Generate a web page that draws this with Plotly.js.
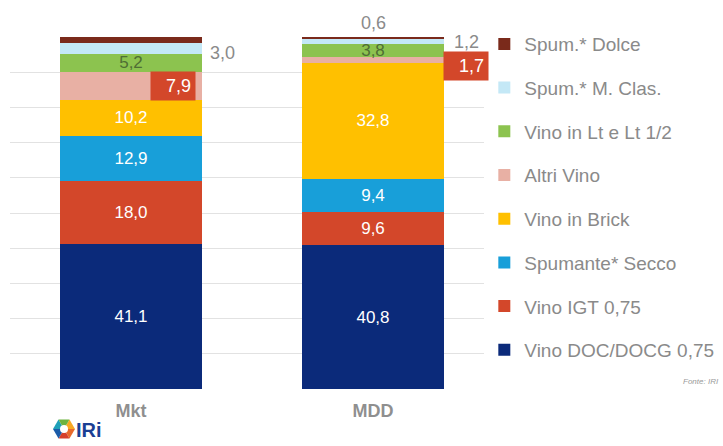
<!DOCTYPE html>
<html>
<head>
<meta charset="utf-8">
<script src="https://cdn.plot.ly/plotly-3.0.1.min.js"></script>
<style>
  html, body { margin: 0; padding: 0; background: #fff; }
  #chart { width: 723px; height: 446px; }
</style>
</head>
<body>
<div id="chart"></div>
<script>
// categorie e quote (%), dal basso verso l'alto
const categorie = ['Mkt', 'MDD'];
const segmenti = ['Vino DOC/DOCG 0,75', 'Vino IGT 0,75', 'Spumante* Secco', 'Vino in Brick',
                  'Altri Vino', 'Vino in Lt e Lt 1/2', 'Spum.* M. Clas.', 'Spum.* Dolce'];
const vinoDoc = [41.1, 40.8];
const vinoIgt = [18.0, 9.6];
const spumSecco = [12.9, 9.4];
const vinoBrick = [10.2, 32.8];
const altriVino = [7.9, 1.7];
const vinoLt = [5.2, 3.8];
const spumClas = [3.0, 1.2];
const spumDolce = [1.7, 0.6];

const valori = [vinoDoc, vinoIgt, spumSecco, vinoBrick, altriVino, vinoLt, spumClas, spumDolce];
const colori = ['#0B2A7A', '#D3472A', '#189FD9', '#FFC000', '#E8B0A4', '#8CC34F', '#C4E8F6', '#7A2A1B'];

const grigio = '#8a8a8a';
const font = 'Liberation Sans, Arial, sans-serif';
const bargap = 0.41;
const mezzaBarra = (1 - bargap) / 2;

// segmenti con etichetta fuori dalla barra
const fuori = ['Altri Vino', 'Spum.* M. Clas.', 'Spum.* Dolce'];
const fmt = v => v.toFixed(1).replace('.', ',');

const traces = segmenti.map((nome, s) => ({
    type: 'bar',
    name: nome,
    legendgroup: nome,
    legendrank: 1000 + (segmenti.length - s),
    x: [0, 1],
    y: valori[s],
    marker: { color: colori[s], line: { width: 0 } },
    text: fuori.includes(nome) ? ['', ''] : valori[s].map(fmt),
    textposition: 'inside',
    insidetextanchor: 'middle',
    textangle: 0,
    constraintext: 'none',
    textfont: { family: font, size: 17, color: nome === 'Vino in Lt e Lt 1/2' ? '#4F6E34' : '#ffffff' },
    hoverinfo: 'name+y'
}));

// posizioni cumulative per le etichette esterne
const base = (s, i) => valori.slice(0, s).reduce((a, v) => a + v[i], 0);
const annotations = [];
const sAltri = segmenti.indexOf('Altri Vino');
const sClas = segmenti.indexOf('Spum.* M. Clas.');
const sDolce = segmenti.indexOf('Spum.* Dolce');

categorie.forEach((c, i) => {
    // Dolce: sopra la barra
    annotations.push({
        x: i, y: base(sDolce + 1, i), xref: 'x', yref: 'y',
        text: fmt(spumDolce[i]), showarrow: false, yanchor: 'bottom', yshift: 2,
        font: { family: font, size: 18, color: grigio }
    });
    // M. Clas.: a destra della barra
    annotations.push({
        x: i + mezzaBarra, y: base(sClas, i) + spumClas[i] / 2, xref: 'x', yref: 'y',
        text: fmt(spumClas[i]), showarrow: false, xanchor: 'left', xshift: i === 0 ? 6 : 8,
        yshift: i === 0 ? -5 : 0,
        font: { family: font, size: 18, color: grigio }
    });
    // Altri Vino: riquadro rosso
    annotations.push({
        x: i + mezzaBarra, y: base(sAltri, i) + altriVino[i] / 2, xref: 'x', yref: 'y',
        text: fmt(altriVino[i]), showarrow: false,
        xanchor: i === 0 ? 'right' : 'left', xshift: i === 0 ? -6 : -1, yshift: i === 0 ? 0 : -6,
        bgcolor: '#D3472A', width: 36, height: 20, borderpad: 4, align: 'right',
        font: { family: font, size: 18, color: '#ffffff' }
    });
});

// conversione pixel -> coordinate paper (area del grafico 10..494 x 37..389)
const px = (X, Y) => [(X - 10) / 484, (389 - Y) / 352];

annotations.push({
    x: px(721, 0)[0], y: px(0, 381)[1], xref: 'paper', yref: 'paper', text: '<i>Fonte: IRI</i>',
    showarrow: false, xanchor: 'right', yanchor: 'middle',
    font: { family: font, size: 8, color: '#9a9a9a' }
});

// logo IRI
const cx = 64, cy = 429, r = 11;
const coloriLogo = ['#F7A823', '#E8692B', '#D6402C', '#1B5BA8', '#1FA0B8', '#6CB33F'];
const shapes = coloriLogo.map((col, k) => {
    const a1 = Math.PI / 180 * (60 * k - 60);
    const a2 = Math.PI / 180 * (60 * k);
    const p0 = px(cx, cy);
    const p1 = px(cx + r * Math.cos(a1), cy + r * Math.sin(a1));
    const p2 = px(cx + r * Math.cos(a2), cy + r * Math.sin(a2));
    return {
        type: 'path', xref: 'paper', yref: 'paper', layer: 'above',
        path: `M ${p0[0]} ${p0[1]} L ${p1[0]} ${p1[1]} L ${p2[0]} ${p2[1]} Z`,
        fillcolor: col, line: { width: 0 }
    };
});
const centro = px(cx, cy);
shapes.push({
    type: 'circle', xref: 'paper', yref: 'paper', layer: 'above',
    x0: centro[0] - 4 / 484, x1: centro[0] + 4 / 484,
    y0: centro[1] - 4 / 352, y1: centro[1] + 4 / 352,
    fillcolor: '#ffffff', line: { width: 0 }
});
annotations.push({
    x: px(74, 0)[0], y: px(0, 430)[1], xref: 'paper', yref: 'paper', text: '<b>IRi</b>',
    showarrow: false, xanchor: 'left', yanchor: 'middle',
    font: { family: font, size: 20, color: '#1B3F94' }
});

const layout = {
    width: 723,
    height: 446,
    margin: { l: 10, r: 229, t: 37, b: 57, autoexpand: false },
    paper_bgcolor: '#ffffff',
    plot_bgcolor: '#ffffff',
    barmode: 'stack',
    bargap: bargap,
    separators: ',.',
    showlegend: true,
    legend: {
        x: 0.98, xanchor: 'left', y: 1.034, yanchor: 'top',
        traceorder: 'grouped', tracegroupgap: 16,
        maxheight: 430,
        font: { family: font, size: 19, color: grigio },
        itemclick: false
    },
    xaxis: {
        range: [-0.5, 1.5],
        tickvals: [0, 1],
        ticktext: categorie.map(c => `<b>${c}</b>`),
        tickfont: { family: font, size: 18, color: '#8f8f8f' },
        ticklabelstandoff: 9,
        showgrid: false, zeroline: false, showline: false, ticks: ''
    },
    yaxis: {
        range: [0, 100], dtick: 10,
        showticklabels: false, showgrid: true, gridcolor: '#e2e2e2', gridwidth: 1,
        zeroline: false, showline: false
    },
    annotations: annotations,
    shapes: shapes
};

Plotly.newPlot('chart', traces, layout, { displayModeBar: false, staticPlot: true });
</script>
</body>
</html>
